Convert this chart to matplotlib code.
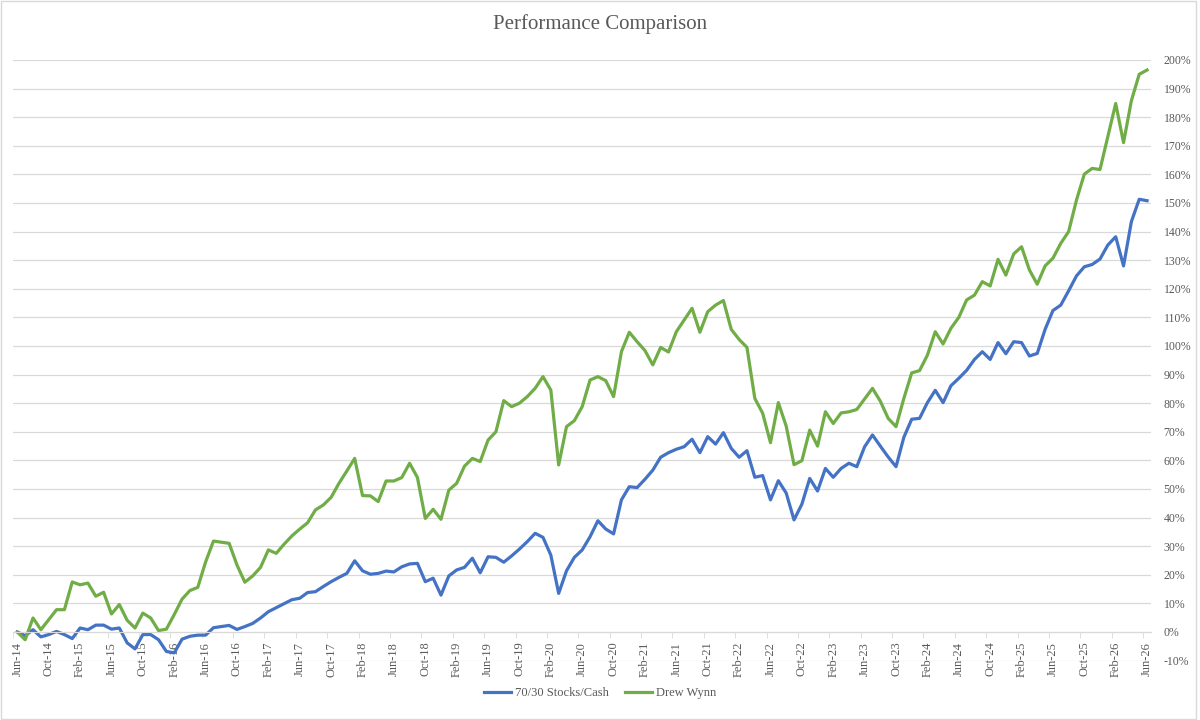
import numpy as np
import pandas as pd
import matplotlib
matplotlib.use('Agg')
import matplotlib.pyplot as plt
from matplotlib.patches import Rectangle

plt.rcParams['font.family'] = ['Liberation Serif', 'DejaVu Serif']

# monthly categories, Jun-14 .. Jun-26
months = pd.date_range('2014-06-01', periods=145, freq='MS')
month_labels = list(months.strftime('%b-%y'))

# cumulative performance in %
stocks_cash = [
    0, -1.3, 0.8, -1.7, -0.9, 0.2, -0.9, -2.3, 1.4, 0.8,
    2.4, 2.4, 1.0, 1.4, -3.8, -5.9, -0.9, -0.9, -2.7, -6.8,
    -7.3, -2.5, -1.5, -1.1, -1.1, 1.5, 1.9, 2.3, 0.9, 1.9,
    3.0, 4.9, 7.1, 8.5, 9.9, 11.3, 11.8, 13.8, 14.1, 15.9,
    17.6, 19.1, 20.5, 24.9, 21.4, 20.2, 20.5, 21.3, 21.0, 22.8,
    23.8, 24.0, 17.6, 18.8, 12.9, 19.6, 21.7, 22.6, 25.8, 20.7,
    26.3, 26.1, 24.4, 26.6, 29.0, 31.6, 34.5, 33.1, 26.9, 13.5,
    21.4, 26.1, 28.7, 33.3, 38.9, 36.0, 34.3, 46.2, 50.8, 50.5,
    53.4, 56.6, 61.1, 62.7, 63.9, 64.8, 67.4, 62.7, 68.3, 65.7,
    69.7, 64.2, 61.1, 63.4, 54.1, 54.7, 46.2, 52.9, 48.6, 39.2,
    44.7, 53.7, 49.3, 57.2, 54.1, 57.2, 59.0, 57.8, 64.8, 68.9,
    65.0, 61.2, 57.8, 68.1, 74.4, 74.7, 80.2, 84.5, 80.2, 86.1,
    88.7, 91.5, 95.3, 98.0, 95.3, 101.2, 97.3, 101.5, 101.2, 96.5,
    97.4, 105.8, 112.4, 114.3, 119.3, 124.5, 127.7, 128.5, 130.4, 135.3,
    138.2, 128.0, 143.5, 151.3, 150.8,
]

drew_wynn = [
    0, -2.7, 4.9, 0.8, 4.3, 7.8, 7.8, 17.5, 16.5, 17.1,
    12.5, 13.9, 6.3, 9.6, 4.1, 1.4, 6.6, 4.9, 0.5, 1.0,
    6.1, 11.5, 14.5, 15.6, 24.5, 31.8, 31.4, 31.0, 23.4, 17.4,
    19.6, 22.6, 28.7, 27.5, 30.7, 33.6, 36.0, 38.2, 42.7, 44.4,
    47.1, 52.0, 56.3, 60.7, 47.7, 47.6, 45.6, 52.8, 52.8, 54.0,
    59.0, 54.0, 39.7, 42.9, 39.4, 49.6, 52.0, 58.0, 60.7, 59.6,
    67.1, 70.0, 80.9, 78.8, 80.0, 82.3, 85.2, 89.3, 84.6, 58.4,
    71.8, 73.9, 78.8, 88.1, 89.3, 87.9, 82.3, 98.0, 104.8, 101.5,
    98.4, 93.4, 99.5, 97.9, 105.0, 109.1, 113.2, 104.8, 112.0, 114.3,
    115.9, 105.8, 102.3, 99.5, 81.7, 76.5, 66.2, 80.2, 72.0, 58.5,
    59.9, 70.6, 65.0, 77.0, 72.9, 76.6, 77.0, 77.8, 81.5, 85.2,
    80.7, 74.7, 71.8, 81.7, 90.6, 91.4, 96.8, 105.0, 100.7, 106.2,
    110.0, 116.1, 117.8, 122.5, 121.0, 130.3, 124.8, 132.2, 134.7, 126.6,
    121.6, 128.0, 130.7, 135.9, 140.0, 151.0, 160.1, 162.1, 161.7, 173.2,
    184.8, 171.1, 185.8, 195.0, 196.5,
]

y_ticks = list(range(-10, 201, 10))

text_color = '#595959'
grid_color = '#D9D9D9'

fig = plt.figure(figsize=(12, 7.2), dpi=100)
ax = fig.add_axes([13.4 / 1200, 1 - 660.6 / 720, (1151 - 13.4) / 1200, (660.6 - 60) / 720])

x = np.arange(len(months))
ax.plot(x, stocks_cash, color='#4472C4', lw=2.3, label='70/30 Stocks/Cash')
ax.plot(x, drew_wynn, color='#70AD47', lw=2.3, label='Drew Wynn')

ax.set_xlim(-0.5, len(months) - 0.5)
ax.set_ylim(-10, 200)

# y axis on the right
ax.yaxis.tick_right()
ax.set_yticks(y_ticks)
ax.set_yticklabels([f'{v}%' for v in y_ticks])
ax.tick_params(axis='y', length=0, pad=9, labelsize=8.5, labelcolor=text_color)
ax.grid(axis='y', color=grid_color, lw=0.9)
ax.set_axisbelow(True)

for s in ['top', 'left', 'right']:
    ax.spines[s].set_visible(False)
ax.spines['bottom'].set_position(('data', 0))
ax.spines['bottom'].set_color(grid_color)

# labels every 4 months, tick marks between categories
ax.set_xticks(x[::4])
ax.set_xticklabels(month_labels[::4], rotation=90)
ax.set_xticks(x[::4] - 0.5, minor=True)
ax.tick_params(axis='x', which='major', length=0, pad=7, labelsize=9, labelcolor=text_color)
ax.tick_params(axis='x', which='minor', length=4, color=grid_color)

fig.text(0.5, 1 - 24 / 720, 'Performance Comparison', ha='center', va='center',
         fontsize=15, color=text_color)

fig.legend(loc='center', bbox_to_anchor=(0.5, 1 - 693 / 720), ncol=2, frameon=False,
           fontsize=9, handlelength=2.2, handletextpad=0.3, columnspacing=1.3,
           labelcolor=text_color)

fig.patches.append(Rectangle((0.001, 0.002), 0.996, 0.996, transform=fig.transFigure,
                             fill=False, edgecolor=grid_color, lw=1))

fig.savefig('out.png', dpi=100)
